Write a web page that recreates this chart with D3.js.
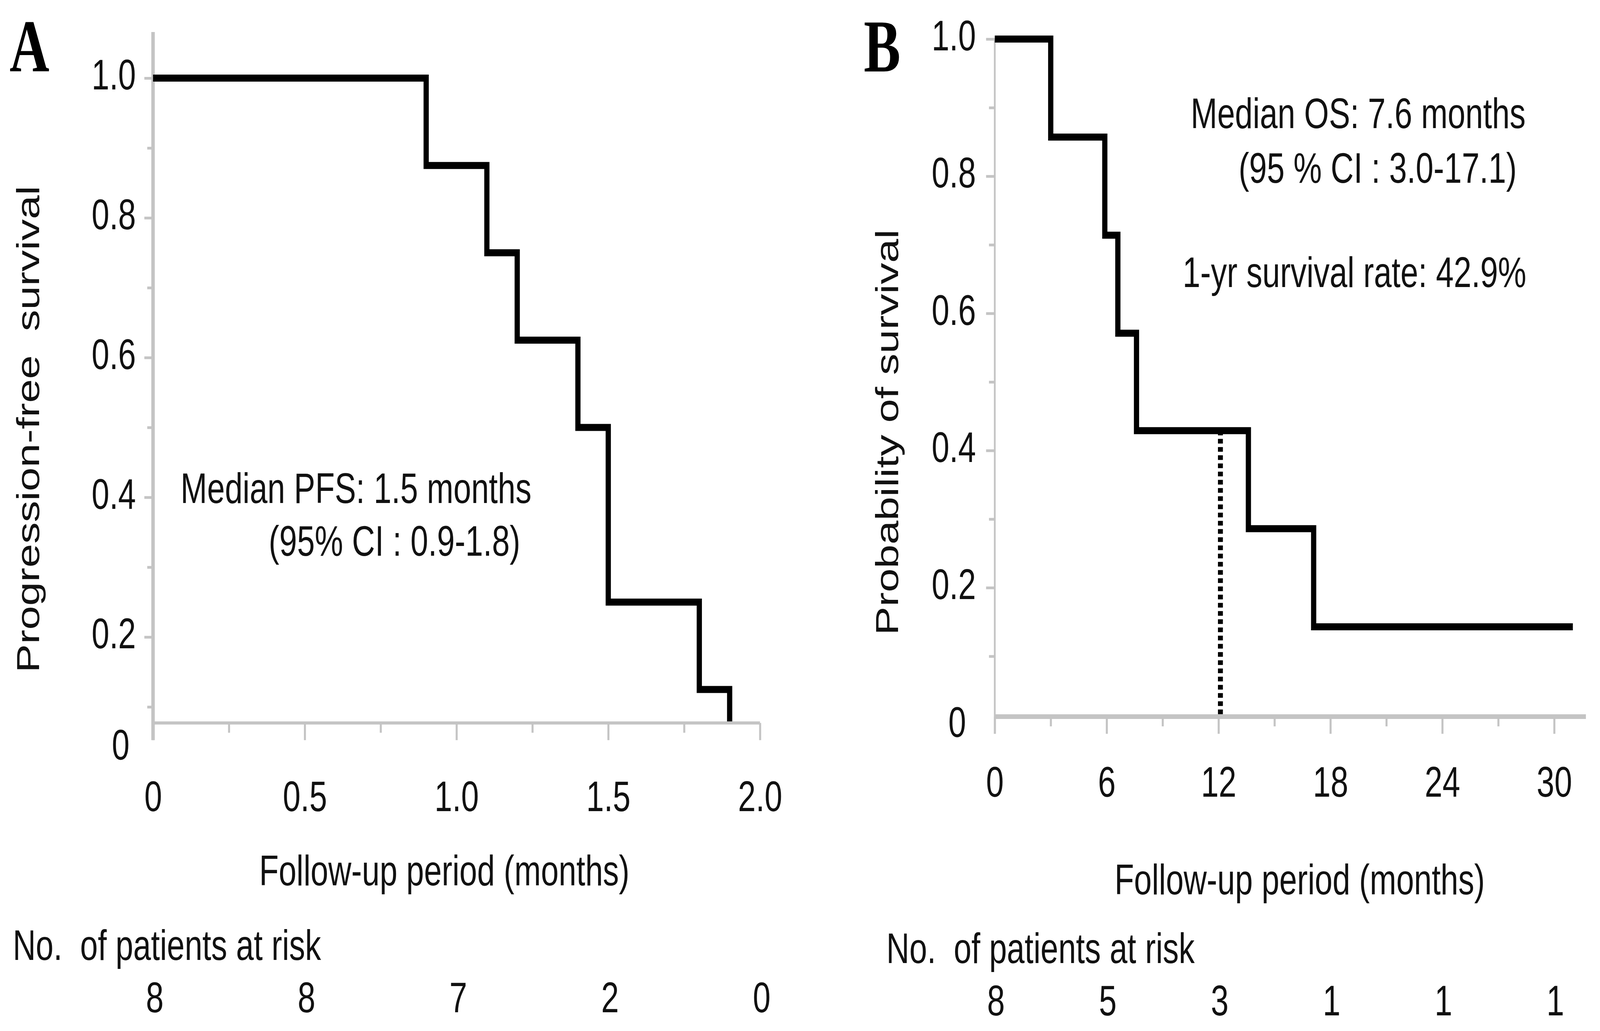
<!DOCTYPE html>
<html>
<head>
<meta charset="utf-8">
<script src="https://cdn.jsdelivr.net/npm/d3@7"></script>
<style>
  html, body { margin: 0; padding: 0; background: #fff; overflow: hidden; }
  svg { display: block; }
  text { font-family: "Liberation Sans", Arial, sans-serif; fill: #111; }
</style>
</head>
<body>
<script>
// ---- data ----
// A: progression-free survival (Kaplan-Meier steps)
const pfsTime = [0, 0.9, 1.1, 1.2, 1.4, 1.5, 1.8, 1.9];
const pfsSurv = [1.0, 0.875, 0.75, 0.625, 0.5, 0.25, 0.125, 0];
const pfsXTicks = [0, 0.5, 1.0, 1.5, 2.0];
const pfsXLabels = ["0", "0.5", "1.0", "1.5", "2.0"];
const pfsXMinor = [0.25, 0.75, 1.25, 1.75];
const pfsRisk = [8, 8, 7, 2, 0];
const pfsNotes = ["Median PFS: 1.5 months", "(95% CI : 0.9-1.8)"];

// B: overall survival
const osTime = [0, 3.0, 5.9, 6.6, 7.6, 13.6, 17.1, 31.0];
const osSurv = [1.0, 0.857, 0.714, 0.571, 0.429, 0.286, 0.143, 0.143];
const osXTicks = [0, 6, 12, 18, 24, 30];
const osXLabels = ["0", "6", "12", "18", "24", "30"];
const osXMinor = [3, 9, 15, 21, 27];
const osRisk = [8, 5, 3, 1, 1, 1];
const osNotes = ["Median OS: 7.6 months", "(95 % CI : 3.0-17.1)", "1-yr survival rate: 42.9%"];
const oneYear = 12.1;
const oneYearSurv = 0.429;

// shared y axis
const yTicks = [0.2, 0.4, 0.6, 0.8, 1.0];
const yLabels = ["0.2", "0.4", "0.6", "0.8", "1.0"];
const yMinor = [0.1, 0.3, 0.5, 0.7, 0.9];

var W = 5520, H = 2640;
var FS = 110;
var axisColor = "#c4c4c4";

// drawing is laid out in 5520x2640 units and stretched to fill the window
var svg = d3.select("body").append("svg")
  .attr("viewBox", "0 0 " + W + " " + H)
  .attr("preserveAspectRatio", "none")
  .style("width", "100vw")
  .style("height", "100vh");

// layout for each panel (pixel positions only)
var panels = [
  {
    id: "A", letterX: 33,
    time: pfsTime, surv: pfsSurv,
    xDom: [0, 2], xRange: [528, 2622], xEnd: 2.0,
    yRange: [1989, 200], yTopVal: 1.066, floorVal: 0.077,
    xTicks: pfsXTicks, xLabels: pfsXLabels, xMinor: pfsXMinor,
    yAxisW: 12, xAxisW: 8,
    xLabelPad: 104, yLabelPad: 29,
    zeroLab: [447, 1945],
    risk: pfsRisk, riskTimes: pfsXTicks, riskDx: 6,
    yTitle: "Progression-free  survival", yTitleX: 135, yTitleY: 1099,
    xTitleX: 1533, xTitleY: 2267,
    riskTitleX: 44, riskTitleY: 2458, riskY: 2592,
    notes: pfsNotes, notePos: [[623, 1288], [927, 1423]]
  },
  {
    id: "B", letterX: 2980,
    time: osTime, surv: osSurv,
    xDom: [0, 30], xRange: [3432, 5362], xEnd: 31.7,
    yRange: [1856, 100], yTopVal: 1.0, floorVal: 0.012,
    xTicks: osXTicks, xLabels: osXLabels, xMinor: osXMinor,
    yAxisW: 6, xAxisW: 12,
    xLabelPad: 83, yLabelPad: 35,
    zeroLab: [3333, 1887],
    risk: osRisk, riskTimes: osXTicks, riskDx: 4,
    yTitle: "Probability of survival", yTitleX: 3098, yTitleY: 1107,
    xTitleX: 4484, xTitleY: 2290,
    riskTitleX: 3058, riskTitleY: 2466, riskY: 2600,
    notes: osNotes, notePos: [[4108, 328], [4273, 468], [4080, 735]],
    dotted: true
  }
];

panels.forEach(function(p) {
  var g = svg.append("g").attr("id", "panel-" + p.id);

  var x = d3.scaleLinear().domain(p.xDom).range(p.xRange);
  var y = d3.scaleLinear().domain([0, 1]).range(p.yRange);
  var axisY = y(p.floorVal);

  // panel letter
  g.append("text")
    .attr("x", p.letterX).attr("y", 183)
    .style("font-family", '"Liberation Serif", "Times New Roman", serif')
    .style("font-weight", "bold")
    .style("font-size", "190px")
    .style("fill", "#000")
    .text(p.id);

  // y axis: minor ticks, major ticks + labels
  g.append("g")
    .attr("transform", "translate(" + p.xRange[0] + ",0)")
    .call(d3.axisLeft(y).tickValues(yMinor).tickSize(20).tickFormat(""))
    .call(function(s) { s.select(".domain").remove(); });

  var yAx = g.append("g")
    .attr("transform", "translate(" + p.xRange[0] + ",0)")
    .call(d3.axisLeft(y).tickValues(yTicks).tickSize(30).tickPadding(p.yLabelPad)
      .tickFormat(function(d, i) { return yLabels[i]; }))
    .call(function(s) { s.select(".domain").remove(); });
  yAx.selectAll("text").attr("dy", "0.26em").style("font-size", FS + "px");

  // x axis: minor ticks, major ticks + labels
  g.append("g")
    .attr("transform", "translate(0," + axisY + ")")
    .call(d3.axisBottom(x).tickValues(p.xMinor).tickSize(25).tickFormat(""))
    .call(function(s) { s.select(".domain").remove(); });

  var xAx = g.append("g")
    .attr("transform", "translate(0," + axisY + ")")
    .call(d3.axisBottom(x).tickValues(p.xTicks).tickSize(44).tickPadding(p.xLabelPad)
      .tickFormat(function(d, i) { return p.xLabels[i]; }))
    .call(function(s) { s.select(".domain").remove(); });
  xAx.selectAll("text").style("font-size", FS + "px");

  g.selectAll(".tick line")
    .attr("stroke", axisColor)
    .attr("stroke-width", 7);
  g.selectAll(".tick text").attr("fill", "#111").style("font-family", '"Liberation Sans", Arial, sans-serif');

  // axis lines
  g.append("line")
    .attr("x1", p.xRange[0]).attr("x2", p.xRange[0])
    .attr("y1", y(p.yTopVal)).attr("y2", axisY + 44)
    .attr("stroke", axisColor).attr("stroke-width", p.yAxisW);
  g.append("line")
    .attr("x1", p.xRange[0]).attr("x2", x(p.xEnd))
    .attr("y1", axisY).attr("y2", axisY)
    .attr("stroke", axisColor).attr("stroke-width", p.xAxisW);

  // "0" label of the y axis sits below the x axis line
  g.append("text")
    .attr("x", p.zeroLab[0]).attr("y", p.zeroLab[1])
    .attr("text-anchor", "end")
    .style("font-size", FS + "px")
    .text("0");

  // 1-year dotted marker
  if (p.dotted) {
    g.append("line")
      .attr("x1", x(oneYear)).attr("x2", x(oneYear))
      .attr("y1", y(oneYearSurv)).attr("y2", axisY)
      .attr("stroke", "#000").attr("stroke-width", 17)
      .attr("stroke-dasharray", "12,9");
  }

  // survival curve, clipped at the x axis line
  g.append("clipPath").attr("id", "clip-" + p.id)
    .append("rect")
    .attr("x", 0).attr("y", 0).attr("width", W).attr("height", axisY - p.xAxisW / 2);

  var step = d3.line()
    .x(function(d) { return x(d[0]); })
    .y(function(d) { return y(d[1]); })
    .curve(d3.curveStepAfter);

  g.append("path")
    .datum(d3.zip(p.time, p.surv))
    .attr("clip-path", "url(#clip-" + p.id + ")")
    .attr("d", step)
    .attr("fill", "none")
    .attr("stroke", "#000")
    .attr("stroke-width", 18)
    .attr("stroke-linejoin", "miter");

  // annotations
  p.notes.forEach(function(t, i) {
    g.append("text")
      .attr("x", p.notePos[i][0]).attr("y", p.notePos[i][1])
      .style("font-size", FS + "px")
      .style("white-space", "pre")
      .text(t);
  });

  // axis titles
  g.append("text")
    .attr("transform", "translate(" + p.yTitleX + "," + p.yTitleY + ") rotate(-90)")
    .attr("text-anchor", "middle")
    .style("font-size", FS + "px")
    .style("white-space", "pre")
    .text(p.yTitle);

  g.append("text")
    .attr("x", p.xTitleX).attr("y", p.xTitleY)
    .attr("text-anchor", "middle")
    .style("font-size", FS + "px")
    .text("Follow-up period (months)");

  // number at risk table
  g.append("text")
    .attr("x", p.riskTitleX).attr("y", p.riskTitleY)
    .style("font-size", FS + "px")
    .style("white-space", "pre")
    .text("No.  of patients at risk");

  g.selectAll(".risk")
    .data(p.risk)
    .enter()
    .append("text")
    .attr("class", "risk")
    .attr("x", function(d, i) { return x(p.riskTimes[i]) + p.riskDx; })
    .attr("y", p.riskY)
    .attr("text-anchor", "middle")
    .style("font-size", FS + "px")
    .text(function(d) { return d; });
});
</script>
</body>
</html>
